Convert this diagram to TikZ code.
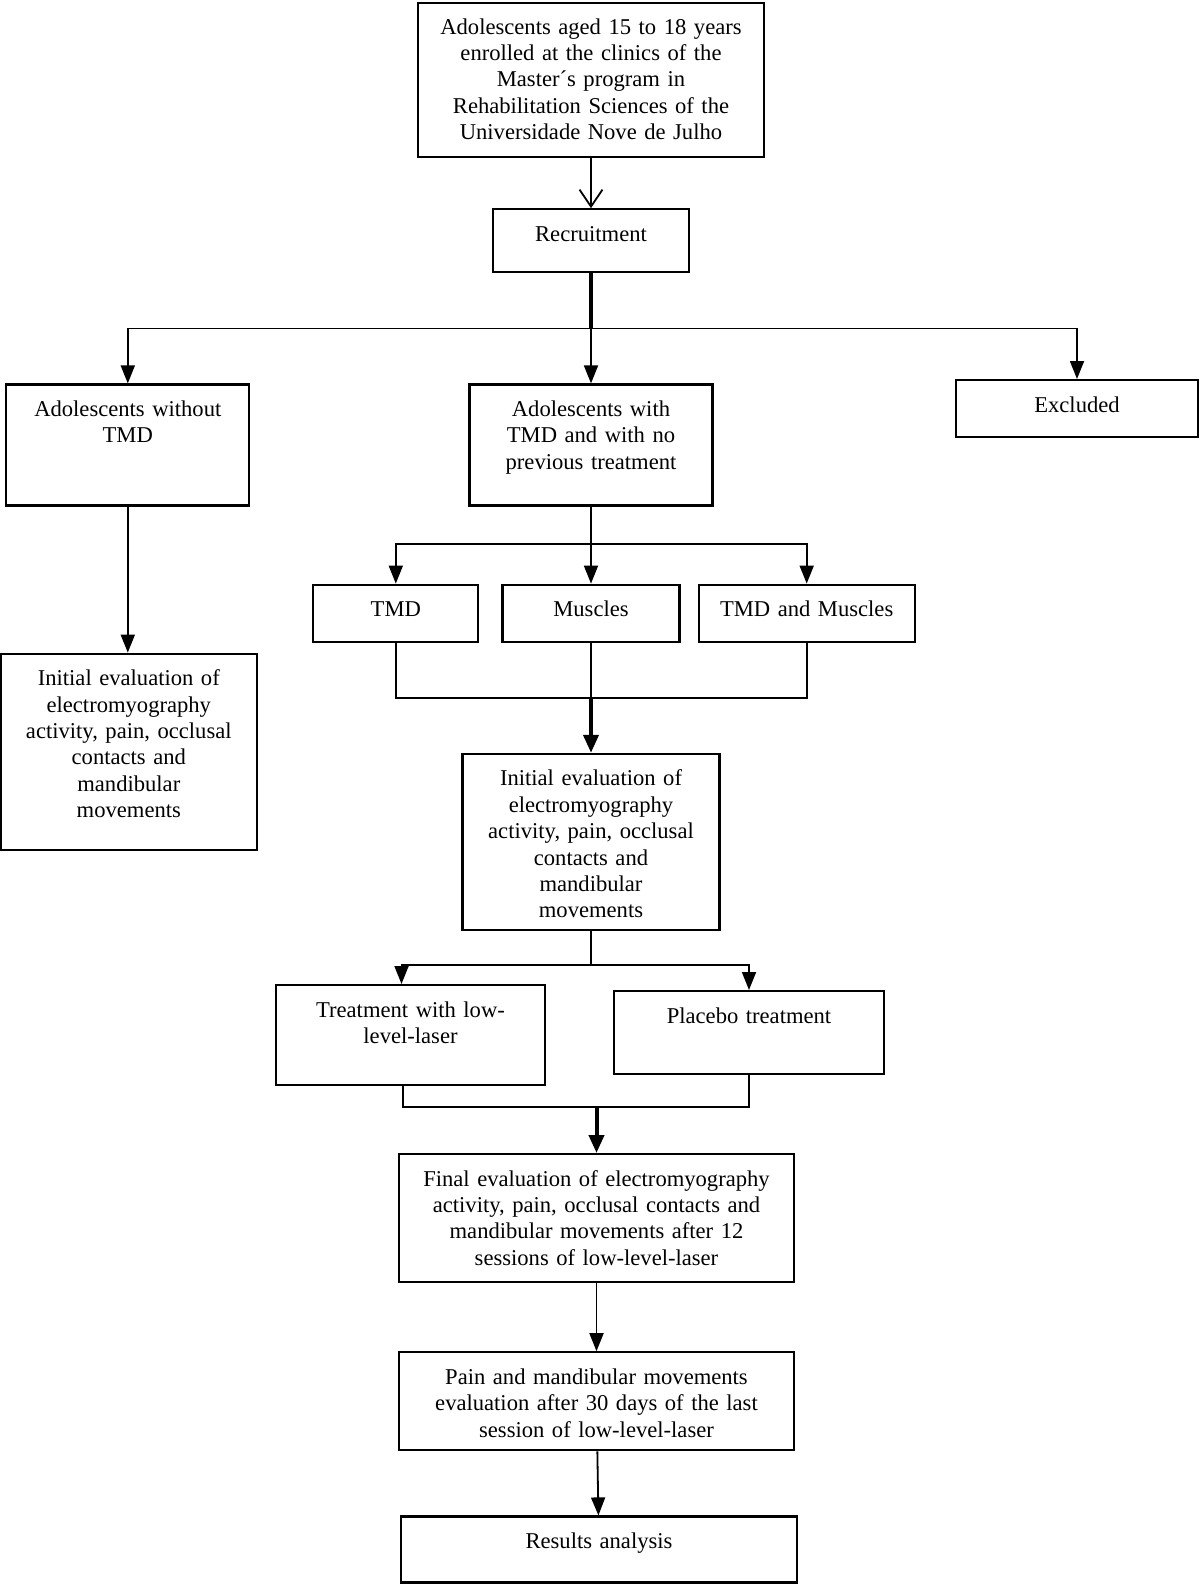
\documentclass[tikz,border=0pt]{standalone}
\usepackage{fontspec}
\setmainfont{Liberation Serif}
\usepackage{tikz}
\usetikzlibrary{positioning, arrows.meta}

\begin{document}
\begin{tikzpicture}

	\tikzstyle{every node}=[font=\fontsize{11.3}{13.2}\selectfont]
	\tikzstyle{box} = [draw, line width=1.1pt, align=center, inner sep=0pt, text height=16pt]

	\useasboundingbox (0,0) rectangle (600pt,-792pt);

	\node[box, anchor=north, text width=173pt, text height=15.5pt, text depth=61.5pt] (top) at (295.5pt,-1pt)
		{Adolescents aged 15 to 18 years \\ enrolled at the clinics of the \\ Master´s program in \\ Rehabilitation Sciences of the \\ Universidade Nove de Julho};
	\node[box, below = 25pt of top, text width=98pt, text depth=15.5pt]           (recruit)  {Recruitment};
	\node[box, below = 55pt of recruit, text width=121.5pt, text depth=44.5pt]    (withtmd)  {Adolescents with \\ TMD and with no \\ previous treatment};
	\node[box, left = 109pt of withtmd, text width=121.5pt, text depth=44.5pt]    (notmd)    {Adolescents without \\ TMD};
	\node[box, anchor=north, text width=121pt, text depth=12.5pt] (excl) at (538.5pt,-189.5pt) {Excluded};
	\node[box, below = 73pt of notmd, xshift=0.5pt, text width=128pt, text depth=82pt] (lefteval) {Initial evaluation of \\ electromyography \\ activity, pain, occlusal \\ contacts and \\ mandibular \\ movements};

	\node[box, below = 38.5pt of withtmd, text width=88.5pt, text depth=12.5pt]   (musc)     {Muscles};
	\node[box, left = 11pt of musc, text width=82.5pt, text depth=12.5pt]         (tmd)      {TMD};
	\node[box, right = 8.5pt of musc, text width=108pt, text depth=12.5pt]        (both)     {TMD and Muscles};
	\node[box, below = 55pt of musc, text width=128.5pt, text depth=72pt]         (mideval)  {Initial evaluation of \\ electromyography \\ activity, pain, occlusal \\ contacts and \\ mandibular \\ movements};

	\node[box, anchor=north, text width=134.5pt, text depth=34pt] (treat)   at (205.25pt,-492pt) {Treatment with low- \\ level-laser};
	\node[box, anchor=north, text width=135pt, text depth=25.5pt] (placebo) at (374.5pt,-495pt) {Placebo treatment};
	\node[box, anchor=north, text width=197.5pt, text depth=48pt] (final)   at (298.25pt,-576.5pt)
		{Final evaluation of electromyography \\ activity, pain, occlusal contacts and \\ mandibular movements after 12 \\ sessions of low-level-laser};
	\node[box, below = 34pt of final, text width=197.5pt, text depth=33pt]        (pain)     {Pain and mandibular movements \\ evaluation after 30 days of the last \\ session of low-level-laser};
	\node[box, below = 32pt of pain, xshift=1.25pt, text width=198pt, text depth=17pt] (results) {Results analysis};

	\tikzstyle{line} = [line width=0.9pt]
	\tikzstyle{boldline} = [line width=2pt]
	\tikzstyle{openarrow} = [line width=0.9pt, -{Straight Barb[length=8.5pt, width=11.5pt]}]
	\tikzstyle{arrow} = [line width=0.9pt, -{Triangle[length=9pt, width=7pt]}]
	\tikzstyle{boldarrow} = [line width=2pt, -{Triangle[length=9pt, width=7.5pt]}]

	\draw[openarrow] (top) -- (recruit);

	\coordinate (s1) at ([yshift=-27.5pt]recruit.south);
	\draw[boldline]  (recruit) -- (s1);
	\draw[arrow]     (s1) -| (notmd);
	\draw[arrow]     (s1) -- (withtmd);
	\draw[arrow]     (s1) -| (excl);
	\draw[arrow]     (notmd.south) -- (notmd.south |- lefteval.north);

	\coordinate (s2) at ([yshift=-18.5pt]withtmd.south);
	\draw[line]      (withtmd) -- (s2);
	\draw[arrow]     (s2) -| (tmd);
	\draw[arrow]     (s2) -- (musc);
	\draw[arrow]     (s2) -| (both);

	\coordinate (j2) at ([yshift=-27.5pt]musc.south);
	\draw[line]      (tmd) |- (j2) -| (both);
	\draw[line]      (musc) -- (j2);
	\draw[boldarrow] (j2) -- (mideval);

	\coordinate (s3) at ([yshift=-17pt]mideval.south);
	\draw[line]      (mideval) -- (s3);
	\draw[arrow]     (s3) -| ([xshift=-4.5pt]treat.north);
	\draw[arrow]     (s3) -| (placebo);

	\coordinate (j3) at ([yshift=23pt]final.north);
	\draw[line]      ([xshift=-3.75pt]treat.south) |- (j3) -| (placebo);
	\draw[boldarrow] (j3) -- (final);
	\draw[arrow]     (final) -- (pain);
	\draw[arrow]     (pain) -- (results);

\end{tikzpicture}
\end{document}
